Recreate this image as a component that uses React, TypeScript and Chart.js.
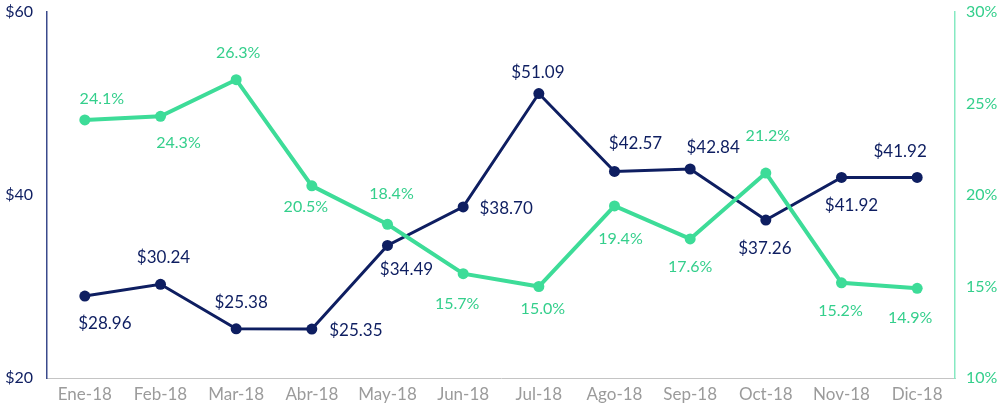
import React, { useEffect, useRef } from "react";
import { Chart, registerables } from "chart.js";

Chart.register(...registerables);

const categories = ["Ene-18", "Feb-18", "Mar-18", "Abr-18", "May-18", "Jun-18", "Jul-18", "Ago-18", "Sep-18", "Oct-18", "Nov-18", "Dic-18"];
const priceValues = [28.96, 30.24, 25.38, 25.35, 34.49, 38.70, 51.09, 42.57, 42.84, 37.26, 41.92, 41.92];
const percentValues = [24.1, 24.3, 26.3, 20.5, 18.4, 15.7, 15.0, 19.4, 17.6, 21.2, 15.2, 14.9];
const priceTicks = [20, 40, 60];
const percentTicks = [10, 15, 20, 25, 30];

// label placement (text-centre offset from its point), styling only
const priceLabelOffsets = [[20, 27], [3, -27], [5, -26], [44, 1], [19, 24], [43, 2], [-1, -21], [21, -28], [23, -21], [-1, 28], [10, 28], [-17, -26]];
const percentLabelOffsets = [[17, -21], [18, 27], [2, -27], [-6, 21], [4, -30], [-6, 30], [4, 22], [6, 33], [0, 28], [2, -37], [-1, 28], [-7, 30]];

const NAVY = "#0e1e61";
const GREEN = "#3ddc98";
const FONT = "Lato, 'Open Sans', sans-serif";

const labelPlugin = {
  id: "pointLabels",
  afterDatasetsDraw(chart: any) {
    const ctx = chart.ctx;
    ctx.save();
    ctx.textAlign = "center";
    ctx.textBaseline = "middle";
    chart.data.datasets.forEach((ds: any, di: number) => {
      const meta = chart.getDatasetMeta(di);
      ctx.font = `${ds.labelSize}px ${FONT}`;
      meta.data.forEach((pt: any, i: number) => {
        const off = ds.labelOffsets[i];
        const v = ds.data[i];
        const text = ds.labelKind === "price" ? "$" + v.toFixed(2) : v.toFixed(1) + "%";
        ctx.fillStyle = ds.labelColor;
        ctx.fillText(text, pt.x + off[0], pt.y + off[1]);
      });
    });
    ctx.restore();
  },
};

export default function App() {
  const ref = useRef<HTMLCanvasElement>(null);
  useEffect(() => {
    if (!ref.current) return;
    const chart = new Chart(ref.current, {
      type: "line",
      data: {
        labels: categories,
        datasets: [
          {
            label: "Porcentaje",
            data: percentValues,
            yAxisID: "yRight",
            borderColor: GREEN,
            backgroundColor: GREEN,
            borderWidth: 4,
            pointRadius: 5.5,
            pointBackgroundColor: GREEN,
            pointBorderWidth: 0,
            tension: 0,
            order: 0,
            labelOffsets: percentLabelOffsets,
            labelKind: "percent",
            labelColor: "#34cf8c",
            labelSize: 16,
          } as any,
          {
            label: "Precio",
            data: priceValues,
            yAxisID: "yLeft",
            borderColor: NAVY,
            backgroundColor: NAVY,
            borderWidth: 3,
            pointRadius: 5.5,
            pointBackgroundColor: NAVY,
            pointBorderWidth: 0,
            tension: 0,
            order: 1,
            labelOffsets: priceLabelOffsets,
            labelKind: "price",
            labelColor: NAVY,
            labelSize: 17,
          } as any,
        ],
      },
      options: {
        responsive: false,
        animation: false,
        devicePixelRatio: 1,
        layout: { autoPadding: false, padding: { top: 12, left: 0, right: 0, bottom: 0 } },
        plugins: { legend: { display: false }, tooltip: { enabled: false } },
        scales: {
          x: {
            offset: true,
            grid: { display: false, drawTicks: false },
            border: { display: true, color: "#c4c4c4", width: 1 },
            ticks: { color: "#9b9b9b", font: { family: FONT, size: 17 }, padding: 6, maxRotation: 0, autoSkip: false },
            afterFit: (s: any) => { s.height = 34; s.paddingLeft = 0; s.paddingRight = 0; },
          },
          yLeft: {
            position: "left",
            min: 20,
            max: 60,
            afterBuildTicks: (s: any) => { s.ticks = priceTicks.map((v) => ({ value: v })); },
            grid: { display: false, drawTicks: false },
            border: { display: true, color: "#3b4a8c", width: 1.5 },
            ticks: { color: NAVY, font: { family: FONT, size: 16 }, padding: 14, callback: (v: any) => "$" + v },
            afterFit: (s: any) => { s.width = 47; s.paddingTop = 0; s.paddingBottom = 0; },
          },
          yRight: {
            position: "right",
            min: 10,
            max: 30,
            afterBuildTicks: (s: any) => { s.ticks = percentTicks.map((v) => ({ value: v })); },
            grid: { display: false, drawTicks: false },
            border: { display: true, color: "#86e9c2", width: 1.5 },
            ticks: { color: "#34cf8c", font: { family: FONT, size: 16 }, padding: 11, callback: (v: any) => v + "%" },
            afterFit: (s: any) => { s.width = 45; s.paddingTop = 0; s.paddingBottom = 0; },
          },
        },
      } as any,
      plugins: [labelPlugin],
    });
    return () => chart.destroy();
  }, []);
  return (
    <div style={{ position: "fixed", left: 0, top: 0, width: 1000, height: 412, background: "#fff" }}>
      <canvas ref={ref} width={1000} height={412} style={{ display: "block" }} />
    </div>
  );
}
